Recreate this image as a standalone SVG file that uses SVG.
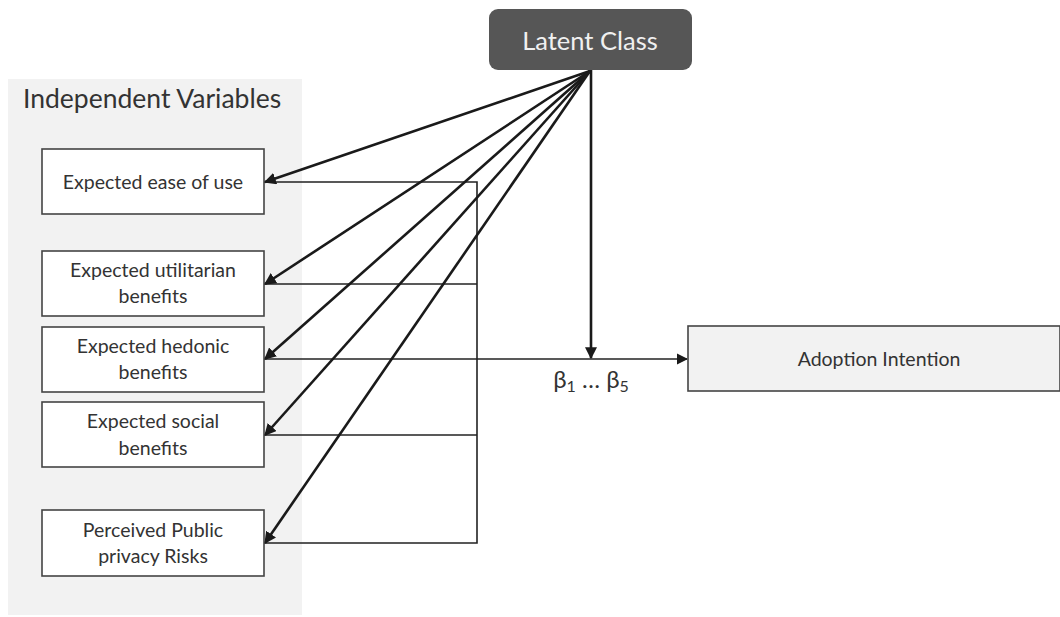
<svg xmlns="http://www.w3.org/2000/svg" width="1060" height="617" viewBox="0 0 1060 617">
<defs>
<style>
.t{font-family:Lato,"Open Sans","Liberation Sans",sans-serif;fill:#333;}
.n{font-size:19.5px;text-anchor:middle;}
.box{fill:#fff;stroke:#444;stroke-width:1.6;}
.thin{fill:none;stroke:#222;stroke-width:1.6;}
.thick{fill:none;stroke:#1a1a1a;stroke-width:2.6;}
</style>
<marker id="ah" viewBox="0 0 10 10" refX="9" refY="5" markerWidth="4.6" markerHeight="4.6" orient="auto" markerUnits="strokeWidth">
<path d="M0,0 L10,5 L0,10 z" fill="#1a1a1a"/>
</marker>
<marker id="ah2" viewBox="0 0 10 10" refX="9" refY="5" markerWidth="7" markerHeight="7" orient="auto" markerUnits="strokeWidth">
<path d="M0,0 L10,5 L0,10 z" fill="#1a1a1a"/>
</marker>
</defs>
<rect width="1060" height="617" fill="#fff"/>
<g id="panel">
<rect x="8" y="79" width="294" height="536" fill="#f2f2f2"/>
<text class="t" x="23" y="108" font-size="26.5">Independent Variables</text>
</g>
<g id="connectors">
<polyline class="thin" points="264,182 477,182 477,543 264,543"/>
<line class="thin" x1="264" y1="284" x2="477" y2="284"/>
<line class="thin" x1="264" y1="435" x2="477" y2="435"/>
<line class="thin" x1="264" y1="359" x2="687" y2="359" marker-end="url(#ah2)"/>
<line class="thick" x1="591" y1="70" x2="591" y2="358" marker-end="url(#ah)"/>
<line class="thick" x1="590" y1="71" x2="265" y2="182" marker-end="url(#ah)"/>
<line class="thick" x1="590" y1="71" x2="265" y2="284" marker-end="url(#ah)"/>
<line class="thick" x1="590" y1="71" x2="265" y2="359" marker-end="url(#ah)"/>
<line class="thick" x1="590" y1="71" x2="265" y2="435" marker-end="url(#ah)"/>
<line class="thick" x1="590" y1="71" x2="265" y2="543" marker-end="url(#ah)"/>
<text class="t" x="591" y="388" font-size="24" text-anchor="middle" fill="#222">β<tspan font-size="16" dy="4">1</tspan><tspan dy="-4"> … β</tspan><tspan font-size="16" dy="4">5</tspan></text>
</g>
<g id="latent">
<rect x="489" y="9" width="203" height="61" rx="9" fill="#565656"/>
<text class="t" x="590" y="50" font-size="25.5" text-anchor="middle" style="fill:#f0f0f0">Latent Class</text>
</g>
<g id="n1">
<rect class="box" x="42" y="149" width="222" height="65"/>
<text class="t n" x="153" y="189">Expected ease of use</text>
</g>
<g id="n2">
<rect class="box" x="42" y="251" width="222" height="65"/>
<text class="t n" x="153" y="277">Expected utilitarian</text>
<text class="t n" x="153" y="303">benefits</text>
</g>
<g id="n3">
<rect class="box" x="42" y="327" width="222" height="65"/>
<text class="t n" x="153" y="353">Expected hedonic</text>
<text class="t n" x="153" y="379">benefits</text>
</g>
<g id="n4">
<rect class="box" x="42" y="402" width="222" height="65"/>
<text class="t n" x="153" y="428">Expected social</text>
<text class="t n" x="153" y="455">benefits</text>
</g>
<g id="n5">
<rect class="box" x="42" y="510" width="222" height="66"/>
<text class="t n" x="153" y="537">Perceived Public</text>
<text class="t n" x="153" y="563">privacy Risks</text>
</g>
<g id="adoption">
<rect x="688" y="326" width="372" height="65" fill="#f2f2f2" stroke="#444" stroke-width="1.6"/>
<text class="t n" x="879" y="366">Adoption Intention</text>
</g>
</svg>
